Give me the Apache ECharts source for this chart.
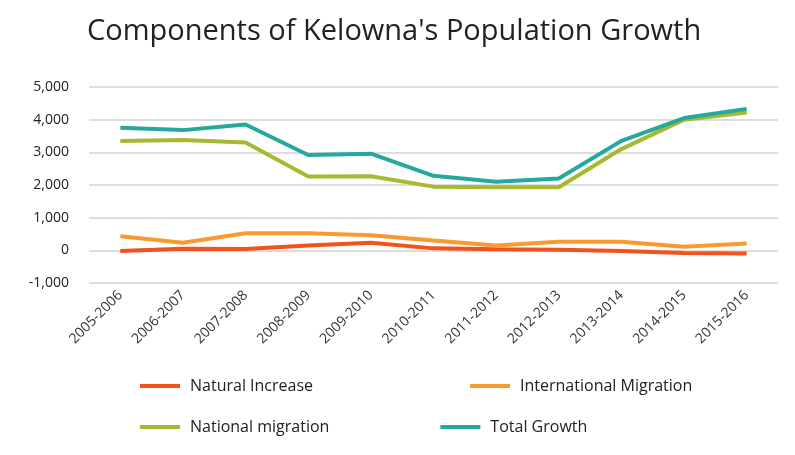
<!DOCTYPE html>
<html>
<head>
<meta charset="UTF-8">
<script src="https://cdn.jsdelivr.net/npm/echarts@6/dist/echarts.min.js"></script>
<style>body{margin:0;background:#fff}#c{width:795px;height:455px}</style>
</head>
<body>
<div id="c"></div>
<script>
var years = ['2005-2006','2006-2007','2007-2008','2008-2009','2009-2010','2010-2011','2011-2012','2012-2013','2013-2014','2014-2015','2015-2016'];
var natural = [-20, 50, 40, 150, 230, 60, 30, 20, -20, -80, -100];
var international = [430, 230, 520, 520, 460, 300, 150, 260, 260, 110, 210];
var national = [3350, 3380, 3300, 2260, 2270, 1950, 1930, 1930, 3100, 4000, 4220];
var total = [3750, 3680, 3850, 2920, 2960, 2280, 2100, 2200, 3350, 4050, 4330];

var chart = echarts.init(document.getElementById('c'));
function s(name, data, color) {
  return {name: name, type: 'line', data: data, symbol: 'none', lineStyle: {width: 4, color: color}, itemStyle: {color: color}};
}
var lg = {icon: 'path://M0,0H40V4H0Z', itemWidth: 50, itemHeight: 4,
  textStyle: {fontFamily: 'Open Sans', fontSize: 16, color: '#222'}};
chart.setOption({
  title: {text: "Components of Kelowna's Population Growth", left: 82, top: 12,
    textStyle: {fontFamily: 'Open Sans', fontSize: 29, fontWeight: 'normal', color: '#222'}},
  grid: {left: 89, right: 17, top: 87, bottom: 172},
  legend: [
    Object.assign({data: ['Natural Increase', 'International Migration'], left: 135, top: 373, itemGap: 157}, lg),
    Object.assign({data: ['National migration', 'Total Growth'], left: 135, top: 414, itemGap: 111}, lg)
  ],
  xAxis: {type: 'category', data: years, boundaryGap: true,
    axisLine: {show: false}, axisTick: {show: false},
    axisLabel: {rotate: 45, interval: 0, fontFamily: 'Open Sans', fontSize: 14, color: '#333', margin: 10}},
  yAxis: {type: 'value', min: -1000, max: 5000, interval: 1000,
    axisLabel: {fontFamily: 'Open Sans', fontSize: 14, color: '#222', margin: 20,
      formatter: function (v) { return v.toLocaleString('en-US'); }},
    splitLine: {lineStyle: {color: '#ddd', width: 2}}},
  series: [
    s('Natural Increase', natural, '#f0531c'),
    s('International Migration', international, '#f99a2e'),
    s('National migration', national, '#a8b830'),
    s('Total Growth', total, '#25a99c')
  ]
});
</script>
</body>
</html>
